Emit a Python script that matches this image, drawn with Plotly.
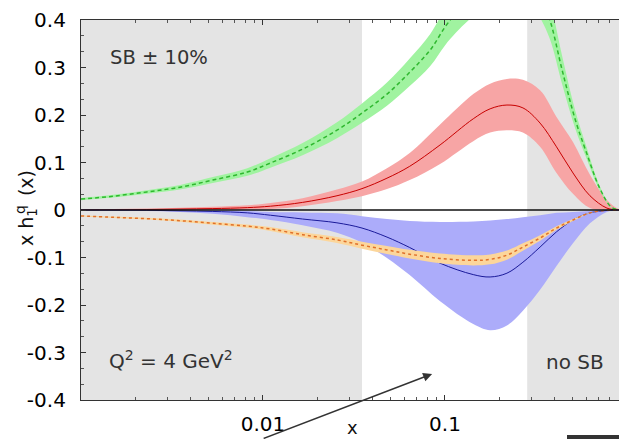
import numpy as np
import plotly.graph_objects as go

# ---------------- data ----------------
# common x grid for the transversity curves and the d-quark Soffer bound
X = [0.001, 0.0015, 0.0023, 0.0035, 0.0053, 0.0082, 0.011, 0.0165, 0.0255, 0.035,
     0.048, 0.064, 0.094, 0.143, 0.177, 0.219, 0.268, 0.333, 0.41, 0.505,
     0.626, 0.776, 0.9, 1.0]

# u-quark transversity (central value and band)
u_mid = [0, 0.0004, 0.001, 0.002, 0.003, 0.005, 0.008, 0.016, 0.030, 0.045,
         0.067, 0.092, 0.137, 0.192, 0.213, 0.221, 0.215, 0.183, 0.133, 0.078,
         0.030, 0.004, 0.0, 0.0]
u_hi = [0.001, 0.002, 0.003, 0.005, 0.007, 0.010, 0.015, 0.025, 0.043, 0.060,
        0.088, 0.120, 0.180, 0.244, 0.266, 0.276, 0.274, 0.252, 0.196, 0.143,
        0.074, 0.021, 0.002, 0.0]
u_lo = [-0.001, -0.001, -0.001, -0.0006, 0.0, 0.001, 0.002, 0.008, 0.019, 0.029,
        0.044, 0.063, 0.097, 0.145, 0.163, 0.168, 0.163, 0.133, 0.078, 0.034,
        0.004, 0.0, 0.0, 0.0]

# d-quark transversity (central value and band)
d_mid = [0, -0.0002, -0.0006, -0.0017, -0.003, -0.006, -0.011, -0.019, -0.027, -0.038,
         -0.057, -0.079, -0.112, -0.136, -0.141, -0.133, -0.110, -0.078, -0.046, -0.021,
         -0.006, -0.001, 0, 0]
d_hi = [0, 0, 0, -0.0004, -0.001, -0.002, -0.004, -0.005, -0.007, -0.013,
        -0.019, -0.023, -0.025, -0.024, -0.022, -0.019, -0.015, -0.011, -0.006, -0.004,
        -0.002, 0, 0, 0]
d_lo = [-0.001, -0.0015, -0.002, -0.004, -0.008, -0.015, -0.021, -0.032, -0.048, -0.069,
        -0.101, -0.137, -0.192, -0.240, -0.253, -0.243, -0.212, -0.168, -0.118, -0.070,
        -0.028, -0.004, 0, 0]

# Soffer bound for d (negative side)
sb_d = [-0.0126, -0.0154, -0.0183, -0.0225, -0.028, -0.034, -0.040, -0.052, -0.063, -0.074,
        -0.084, -0.093, -0.102, -0.106, -0.104, -0.095, -0.078, -0.059, -0.038, -0.021,
        -0.006, -0.0006, 0, 0]

# Soffer bound for u (positive side)
XU = [0.001, 0.0015, 0.0023, 0.0035, 0.0053, 0.0082, 0.011, 0.0165, 0.0255, 0.035,
      0.048, 0.064, 0.083, 0.1, 0.115, 0.14, 0.2, 0.25, 0.3, 0.333,
      0.377, 0.44, 0.52, 0.6, 0.71, 0.82, 0.9, 1.0]
sb_u = [0.023, 0.029, 0.038, 0.048, 0.063, 0.080, 0.099, 0.128, 0.168, 0.204,
        0.244, 0.29, 0.337, 0.385, 0.415, 0.45, 0.50, 0.51, 0.48, 0.45,
        0.40, 0.295, 0.19, 0.12, 0.045, 0.006, 0.001, 0.0]
SB_SPREAD = 0.10  # "SB ± 10%"

# x-range where the Soffer bound is applied (white window)
SB_WINDOW = (0.035, 0.283)

X_VIEW = (0.001, 0.904)
Y_VIEW = (-0.4, 0.4)
y_ticks = [-0.4, -0.3, -0.2, -0.1, 0, 0.1, 0.2, 0.3, 0.4]
y_ticktext = ["-0.4", "-0.3", "-0.2", "-0.1", "0", "0.1", "0.2", "0.3", "0.4"]
x_ticks = [0.01, 0.1]
x_ticktext = ["0.01", "0.1"]

# ---------------- styling ----------------
W, H = 619, 439
ML, MR, MT, MB = 81, 0, 20, 39
FONT = "DejaVu Sans"
GRAY = "#e4e4e4"
TXT = "#333333"
SMOOTH = 1.0

def paper_x(px):
    return (px - ML) / (W - ML - MR)

def paper_y(py):
    return (H - MB - py) / (H - MT - MB)

def band(x, lo, hi, color):
    return go.Scatter(x=list(x) + list(x)[::-1], y=list(hi) + list(lo)[::-1],
                      fill="toself", fillcolor=color, mode="lines",
                      line=dict(width=0, shape="spline", smoothing=SMOOTH),
                      hoverinfo="skip", showlegend=False)

def curve(x, y, color, width=1.2, dash="solid"):
    return go.Scatter(x=x, y=y, mode="lines",
                      line=dict(color=color, width=width, dash=dash,
                                shape="spline", smoothing=SMOOTH),
                      hoverinfo="skip", showlegend=False)

fig = go.Figure()

# gray "no SB" regions
for a, b in [(X_VIEW[0], SB_WINDOW[0]), (SB_WINDOW[1], 1.0)]:
    fig.add_trace(go.Scatter(x=[a, b, b, a], y=[Y_VIEW[0], Y_VIEW[0], Y_VIEW[1], Y_VIEW[1]],
                             fill="toself", fillcolor=GRAY, mode="lines",
                             line=dict(width=0), hoverinfo="skip", showlegend=False))

# u transversity
fig.add_trace(band(X, u_lo, u_hi, "rgb(247,165,165)"))
fig.add_trace(curve(X, u_mid, "#c80000", 1.0))
# d transversity
fig.add_trace(band(X, d_lo, d_hi, "rgb(172,172,250)"))
fig.add_trace(curve(X, d_mid, "#1a1a9a", 1.0))
# Soffer bound for d
sbd = np.array(sb_d)
fig.add_trace(band(X, sbd * (1 + SB_SPREAD), sbd * (1 - SB_SPREAD), "rgb(252,214,155)"))
fig.add_trace(curve(X, sb_d, "#e0702a", 1.5, "3px,3px"))
# Soffer bound for u
sbu = np.array(sb_u)
fig.add_trace(band(XU, sbu * (1 - SB_SPREAD), sbu * (1 + SB_SPREAD), "rgb(160,243,160)"))
fig.add_trace(curve(XU, sb_u, "#2fb82f", 1.5, "4px,3px"))
# zero line on top
fig.add_trace(go.Scatter(x=[X_VIEW[0], 1.0], y=[0, 0], mode="lines",
                         line=dict(color="#111111", width=1.5),
                         hoverinfo="skip", showlegend=False))

fig.update_layout(
    width=W, height=H,
    margin=dict(l=ML, r=MR, t=MT, b=MB, pad=0),
    paper_bgcolor="white", plot_bgcolor="white",
    font=dict(family=FONT, size=20, color="#111111"),
    showlegend=False,
)
fig.update_xaxes(
    type="log", range=[np.log10(X_VIEW[0]), np.log10(X_VIEW[1])],
    tickvals=x_ticks, ticktext=x_ticktext,
    ticks="inside", ticklen=5, tickwidth=1, tickcolor="#333",
    minor=dict(ticks="inside", ticklen=3, tickcolor="#555",
               tickvals=[m * 10.0 ** e for e in (-3, -2, -1) for m in range(2, 10)]),
    showline=True, linecolor="#333", linewidth=1.2, mirror="ticks",
    showgrid=False, zeroline=False, ticklabelstandoff=6,
    tickfont=dict(size=20, color="#000"),
)
fig.update_yaxes(
    range=list(Y_VIEW), tickvals=y_ticks, ticktext=y_ticktext,
    ticks="inside", ticklen=5, tickwidth=1, tickcolor="#333",
    minor=dict(ticks="inside", ticklen=3, tickcolor="#555", dtick=0.1 / 3, tick0=0),
    showline=True, linecolor="#333", linewidth=1.2, mirror=False,
    showgrid=False, zeroline=False, ticklabelstandoff=10,
    tickfont=dict(size=20, color="#000"),
)

ann = [
    dict(text="SB ± 10%", x=paper_x(108), y=paper_y(58), xanchor="left", yanchor="middle", size=19.5),
    dict(text="Q<sup>2</sup> = 4 GeV<sup>2</sup>", x=paper_x(107), y=paper_y(360),
         xanchor="left", yanchor="middle", size=20),
    dict(text="no SB", x=paper_x(544), y=paper_y(362), xanchor="left", yanchor="middle", size=20),
]
for a in ann:
    size = a.pop("size")
    fig.add_annotation(xref="paper", yref="paper", showarrow=False,
                       font=dict(family=FONT, size=size, color=TXT), **a)

# axis titles
fig.add_annotation(xref="paper", yref="paper", x=paper_x(352), y=paper_y(439),
                   text="x", showarrow=False, xanchor="center", yanchor="bottom",
                   borderpad=0, font=dict(family=FONT, size=18, color="#111"))
fig.add_annotation(xref="paper", yref="paper", x=paper_x(27), y=paper_y(208),
                   text="x h<sub>1</sub>  (x)", textangle=-90, showarrow=False,
                   xanchor="center", yanchor="middle",
                   font=dict(family=FONT, size=19, color="#111"))
fig.add_annotation(xref="paper", yref="paper", x=paper_x(20), y=paper_y(210),
                   text="q", textangle=-90, showarrow=False,
                   xanchor="center", yanchor="middle", borderpad=0,
                   font=dict(family=FONT, size=14, color="#111"))

# pointer arrow into the SB window
fig.add_annotation(xref="x", yref="y", x=np.log10(0.085), y=-0.345, text="",
                   showarrow=True, ax=-170, ay=70, axref="pixel", ayref="pixel",
                   arrowhead=2, arrowsize=1.2, arrowwidth=1.5, arrowcolor="#333")

# dark bar at the lower right
fig.add_shape(type="rect", xref="paper", yref="paper",
              x0=paper_x(567), x1=paper_x(625), y0=paper_y(446), y1=paper_y(435),
              fillcolor="#333", line=dict(width=0), layer="above")

fig.write_html("out.html")
